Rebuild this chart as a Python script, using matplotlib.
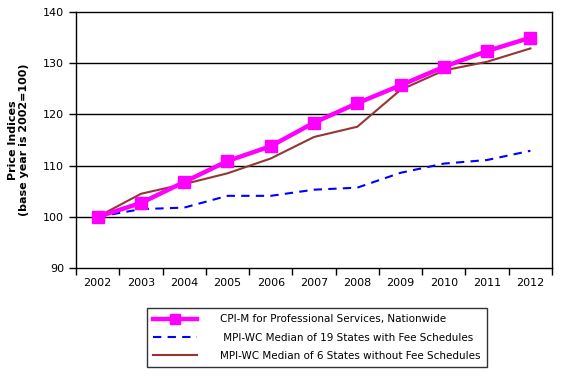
import matplotlib
matplotlib.use('Agg')
import matplotlib.pyplot as plt
import numpy as np

# data
years = ['2002', '2003', '2004', '2005', '2006', '2007', '2008', '2009', '2010', '2011', '2012']
cpi_m = [100, 102.7, 106.8, 110.9, 113.8, 118.4, 122.2, 125.7, 129.3, 132.4, 135.0]
mpi_fee = [100, 101.5, 101.8, 104.1, 104.1, 105.3, 105.7, 108.6, 110.4, 111.1, 112.9]
mpi_nofee = [100, 104.5, 106.4, 108.5, 111.4, 115.6, 117.6, 124.8, 128.6, 130.3, 132.9]

labels = ['CPI-M for Professional Services, Nationwide',
          ' MPI-WC Median of 19 States with Fee Schedules',
          'MPI-WC Median of 6 States without Fee Schedules']

fig = plt.figure(figsize=(5.61, 3.78), dpi=100)
ax = fig.add_axes([0.1355, 0.291, 0.8485, 0.677])

x = np.arange(len(years))
ax.plot(x, cpi_m, color='#FF00FF', lw=3.2, marker='s', ms=9, zorder=4, label=labels[0])
ax.plot(x, mpi_fee, color='#0000FF', lw=1.5, ls=(0, (4, 3)), zorder=3, label=labels[1])
ax.plot(x, mpi_nofee, color='#943634', lw=1.5, zorder=3, label=labels[2])

ax.set_xlim(-0.5, len(years) - 0.5)
ax.set_ylim(90, 140)
ax.set_yticks([90, 100, 110, 120, 130, 140])
for yv in [100, 110, 120, 130]:
    ax.axhline(yv, color='black', lw=1, zorder=1)

ax.set_xticks(x)
ax.set_xticklabels(years)
ax.set_xticks(np.arange(-0.5, len(years)), minor=True)
ax.tick_params(axis='x', which='major', length=0, pad=7, labelsize=8)
ax.tick_params(axis='x', which='minor', length=5, width=1, direction='out')
ax.tick_params(axis='y', length=5, width=1, direction='out', labelsize=8)
for s in ax.spines.values():
    s.set_linewidth(1)

ax.set_ylabel('Price Indices\n(base year is 2002=100)', fontsize=8, fontweight='bold', labelpad=10)

leg = fig.legend(loc='center', bbox_to_anchor=(0.565, 0.107), fontsize=7.5,
                 frameon=True, fancybox=False, handlelength=4.2, borderpad=0.6,
                 labelspacing=0.8, handletextpad=2.2, markerscale=0.75)
leg.get_frame().set_edgecolor('black')
leg.get_frame().set_linewidth(1)

fig.savefig('out.png', dpi=100)
